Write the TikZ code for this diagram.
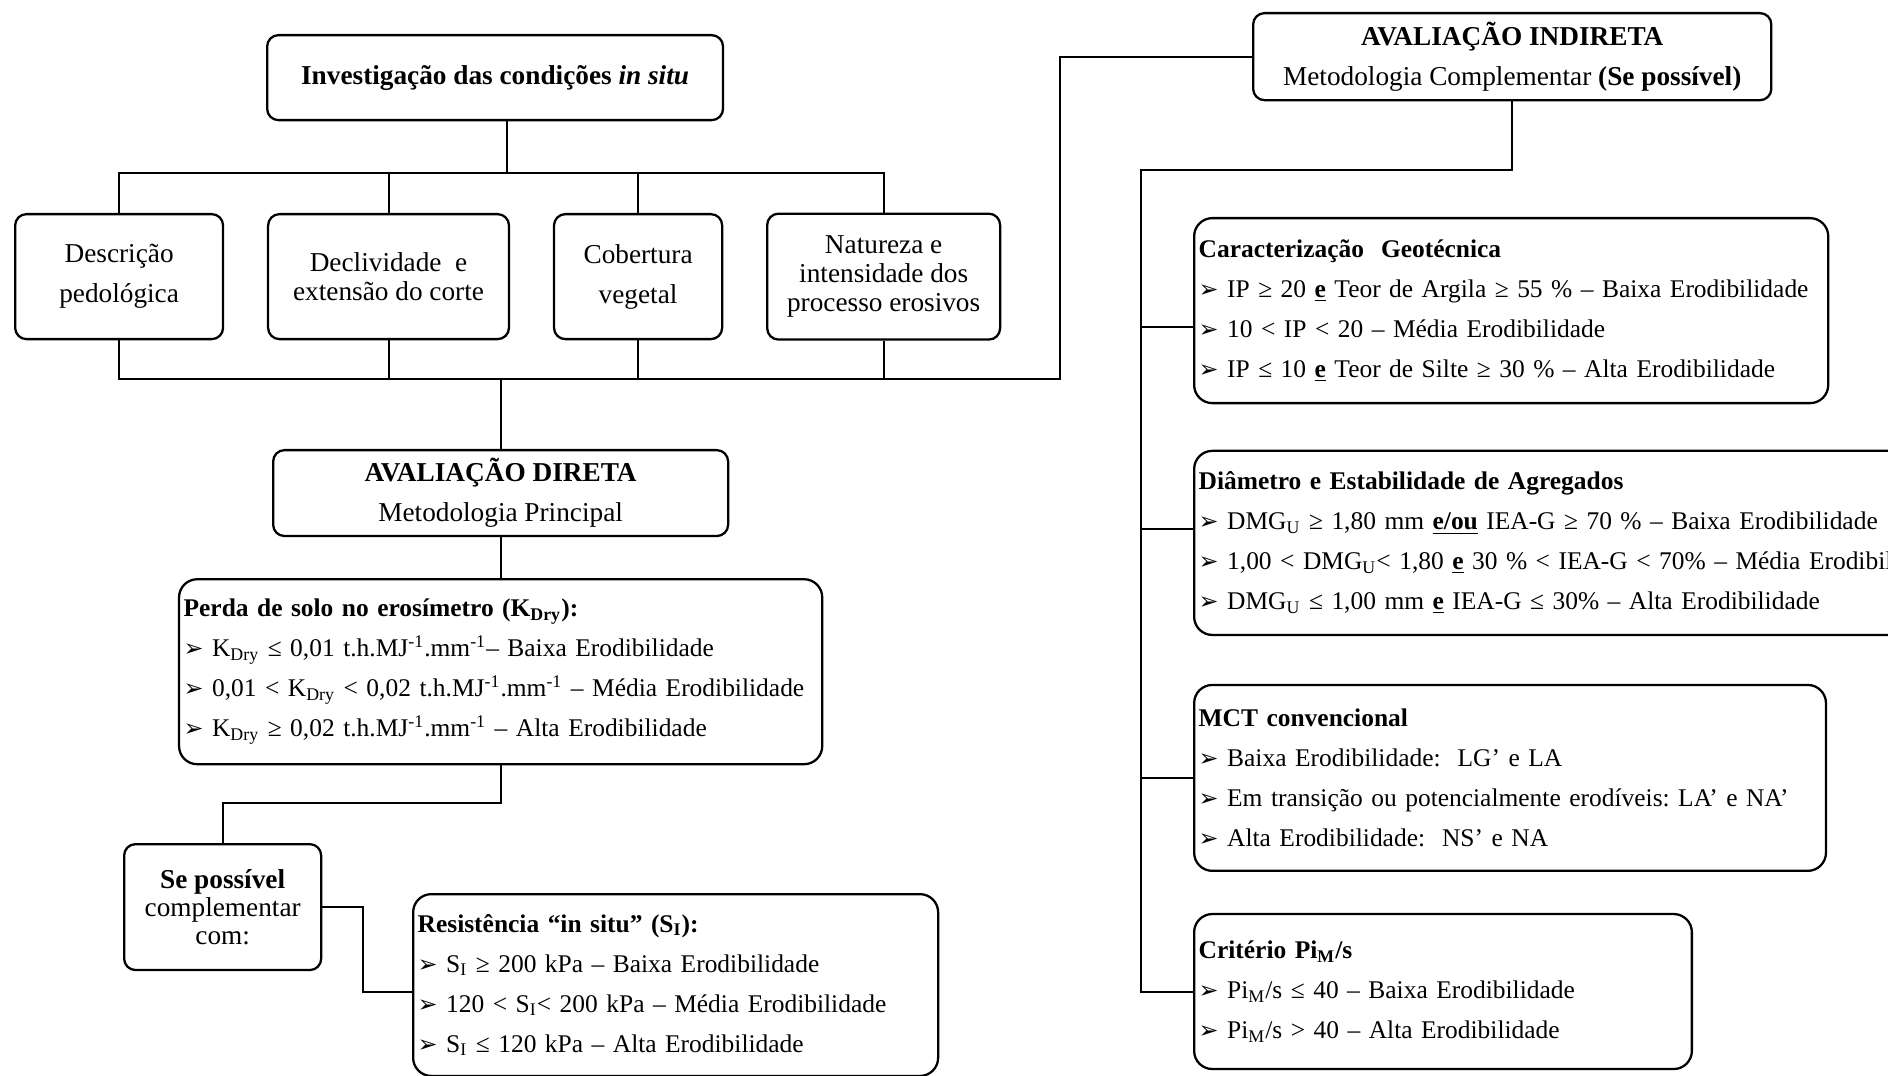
\documentclass[tikz,border=0pt]{standalone}
\usepackage{fontspec}
\setmainfont{Liberation Serif}
\newfontfamily\dejavu{DejaVu Sans}
\usetikzlibrary{positioning}
\newcommand\seta{{\dejavu\fontsize{10.5}{10}\selectfont ➢}\ }
\newcommand\ue{\underline{\textbf{e}}}
\begin{document}
\begin{tikzpicture}[x=0.44pt,y=-0.44pt,
 box/.style={draw,line width=1pt,rounded corners=5pt,align=center,inner xsep=2pt,inner ysep=1pt,
 font=\fontsize{12}{17.6}\selectfont},
 lst/.style={box,align=left,rounded corners=8pt,font=\fontsize{11.2}{17.6}\selectfont},
 ln/.style={line width=0.85pt}]
\useasboundingbox (0,0) rectangle (1888,1076);
\clip (0,0) rectangle (1888,1076);
% left half: investigation and direct evaluation
\node[box,anchor=north west,minimum width=200.6pt,minimum height=37.4pt] (inv) at (266,34) {\textbf{Investigação das condições \textit{in situ}}};
\node[box,anchor=north west,minimum width=91.5pt,minimum height=55pt] (desc) at (14,213) {Descrição\\pedológica};
\node[box,right=18.8pt of desc,minimum width=106pt,minimum height=55pt,font=\fontsize{12}{12.8}\selectfont] (decl) {Declividade\ \ e\\extensão do corte};
\node[box,right=18.8pt of decl,minimum width=74pt,minimum height=55pt] (cob) {Cobertura\\vegetal};
\node[box,right=18.8pt of cob,minimum width=102.5pt,minimum height=55.4pt,font=\fontsize{12}{12.8}\selectfont] (nat) {Natureza e\\intensidade dos\\processo erosivos};
\node[box,anchor=north west,minimum width=200.2pt,minimum height=37.8pt] (dir) at (272,449) {\textbf{AVALIAÇÃO DIRETA}\\Metodologia Principal};
\node[lst,below=18pt of dir,text width=279pt,minimum height=81.4pt] (perda) {\textbf{Perda de solo no erosímetro (K\textsubscript{Dry}):}\\
 \seta K\textsubscript{Dry} ≤ 0,01 t.h.MJ\textsuperscript{-1}.mm\textsuperscript{-1}– Baixa Erodibilidade\\
 \seta 0,01 < K\textsubscript{Dry} < 0,02 t.h.MJ\textsuperscript{-1}.mm\textsuperscript{-1} – Média Erodibilidade\\
 \seta K\textsubscript{Dry} ≥ 0,02 t.h.MJ\textsuperscript{-1}.mm\textsuperscript{-1} – Alta Erodibilidade};
\node[box,anchor=north west,minimum width=86.7pt,minimum height=55.4pt,font=\fontsize{12}{12.2}\selectfont] (sep) at (123,843) {\textbf{Se possível}\\complementar\\com:};
\node[lst,anchor=north west,text width=227pt,minimum height=80pt] (res) at (412,893) {\textbf{Resistência “in situ” (S\textsubscript{I}):}\\
 \seta S\textsubscript{I} ≥ 200 kPa – Baixa Erodibilidade\\
 \seta 120 < S\textsubscript{I}< 200 kPa – Média Erodibilidade\\
 \seta S\textsubscript{I} ≤ 120 kPa – Alta Erodibilidade};
% right half: indirect evaluation
\node[box,anchor=north west,minimum width=228pt,minimum height=38.3pt] (ind) at (1252,12) {\textbf{AVALIAÇÃO INDIRETA}\\Metodologia Complementar \textbf{(Se possível)}};
\node[lst,anchor=north west,text width=275pt,minimum height=81.4pt] (car) at (1193,217) {\textbf{Caracterização\ \ Geotécnica}\\
 \seta IP ≥ 20 \ue{} Teor de Argila ≥ 55 \% – Baixa Erodibilidade\\
 \seta 10 < IP < 20 – Média Erodibilidade\\
 \seta IP ≤ 10 \ue{} Teor de Silte ≥ 30 \% – Alta Erodibilidade};
\node[lst,below=20pt of car.south west,anchor=north west,text width=339pt,minimum height=81pt] (dia) {\textbf{Diâmetro e Estabilidade de Agregados}\\
 \seta DMG\textsubscript{U} ≥ 1,80 mm \underline{\textbf{e/ou}} IEA-G ≥ 70 \% – Baixa Erodibilidade\\
 \seta 1,00 < DMG\textsubscript{U}< 1,80 \ue{} 30 \% < IEA-G < 70\% – Média Erodibilidade\\
 \seta DMG\textsubscript{U} ≤ 1,00 mm \ue{} IEA-G ≤ 30\% – Alta Erodibilidade};
\node[lst,below=21pt of dia.south west,anchor=north west,text width=274pt,minimum height=81.8pt] (mct) {\textbf{MCT convencional}\\
 \seta Baixa Erodibilidade:\ \ LG’ e LA\\
 \seta Em transição ou potencialmente erodíveis:\ LA’ e NA’\\
 \seta Alta Erodibilidade:\ \ NS’ e NA};
\node[lst,below=18pt of mct.south west,anchor=north west,text width=215pt,minimum height=68.2pt] (cri) {\textbf{Critério Pi\textsubscript{M}/s}\\
 \seta Pi\textsubscript{M}/s ≤ 40 – Baixa Erodibilidade\\
 \seta Pi\textsubscript{M}/s > 40 – Alta Erodibilidade};
% connectors
\coordinate (t1) at (507,173);
\coordinate (b1) at (1060,379);
\coordinate (r1) at (1141,170);
\draw[ln] (t1 |- inv.south) -- (t1);
\draw[ln] (desc.north) |- (t1) -| (nat.north);
\draw[ln] (decl.north) -- (decl.north |- t1);
\draw[ln] (cob.north) -- (cob.north |- t1);
\draw[ln] (desc.south) |- (b1) |- (ind.west);
\draw[ln] (decl.south) -- (decl.south |- b1);
\draw[ln] (cob.south) -- (cob.south |- b1);
\draw[ln] (nat.south) -- (nat.south |- b1);
\draw[ln] (dir.north) -- (dir.north |- b1);
\draw[ln] (dir.south) -- (perda.north);
\draw[ln] (perda.south) -- ++(0,38) -| (sep.north);
\draw[ln] (sep.east) -- ++(41,0) |- ([yshift=-3pt]res.west);
\draw[ln] (ind.south) |- (r1) -- (r1 |- cri.west) -- (cri.west);
\draw[ln] ([yshift=-7pt]car.west) -- ([yshift=-7pt]car.west -| r1);
\draw[ln] ([yshift=6pt]dia.west) -- ([yshift=6pt]dia.west -| r1);
\draw[ln] (mct.west) -- (mct.west -| r1);
\end{tikzpicture}
\end{document}
